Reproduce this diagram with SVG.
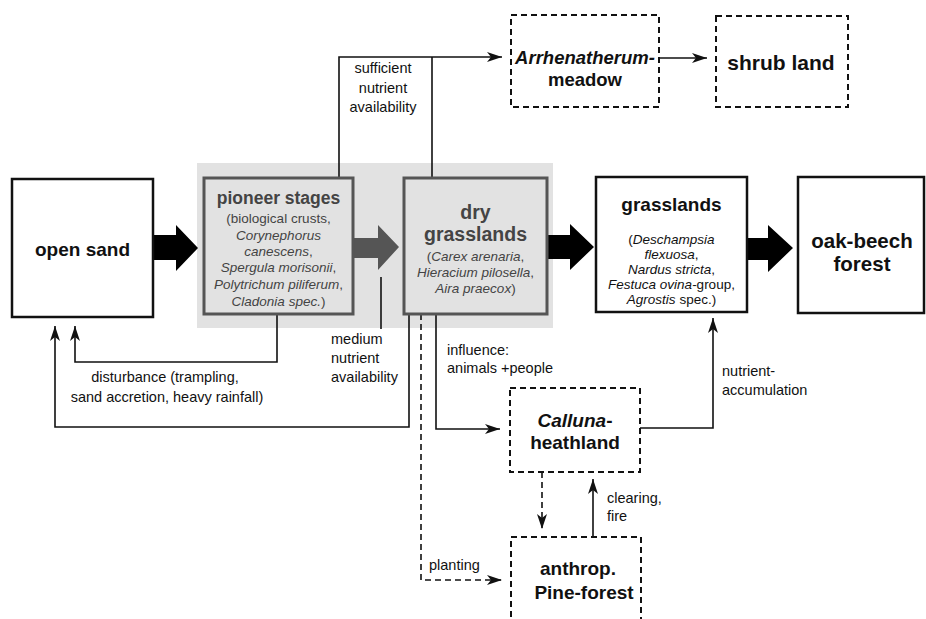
<svg xmlns="http://www.w3.org/2000/svg" width="926" height="619" viewBox="0 0 926 619">
  <style>
    text { font-family: "Liberation Sans", Arial, sans-serif; fill: #111; }
    .title { font-weight: bold; text-anchor: middle; }
    .spec { font-size: 13.5px; text-anchor: middle; }
    .it { font-style: italic; }
    .lbl { font-size: 14.5px; }
    .grey text { fill: #444; }
    .box { fill: #fff; stroke: #111; stroke-width: 2.5; }
    .gbox { fill: #e2e2e2; stroke: #555; stroke-width: 3; }
    .dbox { fill: #fff; stroke: #111; stroke-width: 2; stroke-dasharray: 6 4; }
    .con { fill: none; stroke: #111; stroke-width: 1.6; }
    .dash { stroke-dasharray: 6 4; }
    .big { fill: #000; }
  </style>
  <defs>
    <marker id="ah" viewBox="0 0 16 12" refX="15" refY="6" markerWidth="16" markerHeight="12" orient="auto" markerUnits="userSpaceOnUse">
      <path d="M0,1 L15,6 L0,11 L4,6 z" fill="#111"/>
    </marker>
  </defs>

  <rect width="926" height="619" fill="#fff"/>
  <!-- shaded band behind the early stages -->
  <rect x="197" y="163" width="356" height="165" fill="#e2e2e2"/>

  <g id="connectors">
    <path class="con" d="M339,178 V57 H502" marker-end="url(#ah)"/>
    <path class="con" d="M432,178 V57"/>
    <path class="con" d="M659,58 H707" marker-end="url(#ah)"/>
    <path class="con" d="M277,314 V362 H75 V326" marker-end="url(#ah)"/>
    <path class="con" d="M409,314 V427 H55 V326" marker-end="url(#ah)"/>
    <path class="con" d="M381,277 V329"/>
    <path class="con dash" d="M421,314 V580 H502" marker-end="url(#ah)"/>
    <path class="con" d="M436,314 V429 H500" marker-end="url(#ah)"/>
    <path class="con" d="M640,428 H713 V318" marker-end="url(#ah)"/>
    <path class="con dash" d="M542,472 V529" marker-end="url(#ah)"/>
    <path class="con" d="M593,537 V479" marker-end="url(#ah)"/>
    <!-- broad succession arrows -->
    <polygon class="big" points="153,235 176,235 176,225 198,248 176,271 176,260 153,260"/>
    <polygon fill="#555" points="353,238 378,238 378,225 399,247 378,270 378,258 353,258"/>
    <polygon class="big" points="547,235 570,235 570,224 594,247 570,270 570,259 547,259"/>
    <polygon class="big" points="747,238 768,238 768,225 793,248 768,272 768,260 747,260"/>
  </g>

  <g id="labels">
    <text class="lbl" text-anchor="middle" x="383" y="73">sufficient</text>
    <text class="lbl" text-anchor="middle" x="383" y="93">nutrient</text>
    <text class="lbl" text-anchor="middle" x="383" y="112">availability</text>
    <text class="lbl" x="331" y="344">medium</text>
    <text class="lbl" x="331" y="363">nutrient</text>
    <text class="lbl" x="331" y="382">availability</text>
    <text class="lbl" text-anchor="middle" x="165" y="382">disturbance (trampling,</text>
    <text class="lbl" text-anchor="middle" x="167" y="402">sand accretion, heavy rainfall)</text>
    <text class="lbl" x="447" y="355">influence:</text>
    <text class="lbl" x="447" y="373">animals +people</text>
    <text class="lbl" x="722" y="376">nutrient-</text>
    <text class="lbl" x="722" y="395">accumulation</text>
    <text class="lbl" x="607" y="503">clearing,</text>
    <text class="lbl" x="607" y="521">fire</text>
    <text class="lbl" x="429" y="570">planting</text>
  </g>

  <g id="open-sand">
    <rect class="box" x="12" y="179" width="141" height="138"/>
    <text class="title" x="82.5" y="256" font-size="19">open sand</text>
  </g>

  <g id="pioneer-stages" class="grey">
    <rect class="gbox" x="204" y="178" width="149" height="136"/>
    <text class="title" x="278.5" y="204" font-size="17.5">pioneer stages</text>
    <text class="spec" x="278.5" y="223">(biological crusts,</text>
    <text class="spec it" x="278.5" y="240">Corynephorus</text>
    <text class="spec" x="278.5" y="256"><tspan class="it">canescens</tspan>,</text>
    <text class="spec" x="278.5" y="272"><tspan class="it">Spergula morisonii</tspan>,</text>
    <text class="spec" x="278.5" y="289"><tspan class="it">Polytrichum piliferum</tspan>,</text>
    <text class="spec" x="278.5" y="306"><tspan class="it">Cladonia spec.</tspan>)</text>
  </g>

  <g id="dry-grasslands" class="grey">
    <rect class="gbox" x="404" y="178" width="143" height="136"/>
    <text class="title" x="475.5" y="219" font-size="19.5">dry</text>
    <text class="title" x="475.5" y="241" font-size="19.5">grasslands</text>
    <text class="spec" x="475.5" y="261">(<tspan class="it">Carex arenaria</tspan>,</text>
    <text class="spec" x="475.5" y="277"><tspan class="it">Hieracium pilosella</tspan>,</text>
    <text class="spec" x="475.5" y="293"><tspan class="it">Aira praecox</tspan>)</text>
  </g>

  <g id="grasslands">
    <rect class="box" x="596" y="177" width="151" height="135" stroke-width="3"/>
    <text class="title" x="671.5" y="211" font-size="19">grasslands</text>
    <text class="spec" x="671.5" y="244">(<tspan class="it">Deschampsia</tspan></text>
    <text class="spec" x="671.5" y="259"><tspan class="it">flexuosa</tspan>,</text>
    <text class="spec" x="671.5" y="274"><tspan class="it">Nardus stricta</tspan>,</text>
    <text class="spec" x="671.5" y="289"><tspan class="it">Festuca ovina</tspan>-group,</text>
    <text class="spec" x="671.5" y="304"><tspan class="it">Agrostis</tspan> spec.)</text>
  </g>

  <g id="oak-beech-forest">
    <rect class="box" x="798" y="177" width="126" height="136" stroke-width="2"/>
    <text class="title" x="862" y="248" font-size="20.5">oak-beech</text>
    <text class="title" x="862" y="271" font-size="20.5">forest</text>
  </g>

  <g id="arrhenatherum-meadow">
    <rect class="dbox" x="511" y="15" width="148" height="92"/>
    <text class="title it" x="585" y="64" font-size="18.5">Arrhenatherum-</text>
    <text class="title" x="585" y="86" font-size="18.5">meadow</text>
  </g>

  <g id="shrub-land">
    <rect class="dbox" x="716" y="16" width="132" height="91"/>
    <text class="title" x="781" y="70" font-size="21">shrub land</text>
  </g>

  <g id="calluna-heathland">
    <rect class="dbox" x="510" y="388" width="130" height="84"/>
    <text class="title" x="575" y="427" font-size="19"><tspan class="it">Calluna</tspan>-</text>
    <text class="title" x="575" y="449" font-size="19">heathland</text>
  </g>

  <g id="pine-forest">
    <rect class="dbox" x="511" y="537" width="130" height="90"/>
    <text class="title" x="578" y="575" font-size="19">anthrop.</text>
    <text class="title" x="584" y="599" font-size="19">Pine-forest</text>
  </g>
</svg>
